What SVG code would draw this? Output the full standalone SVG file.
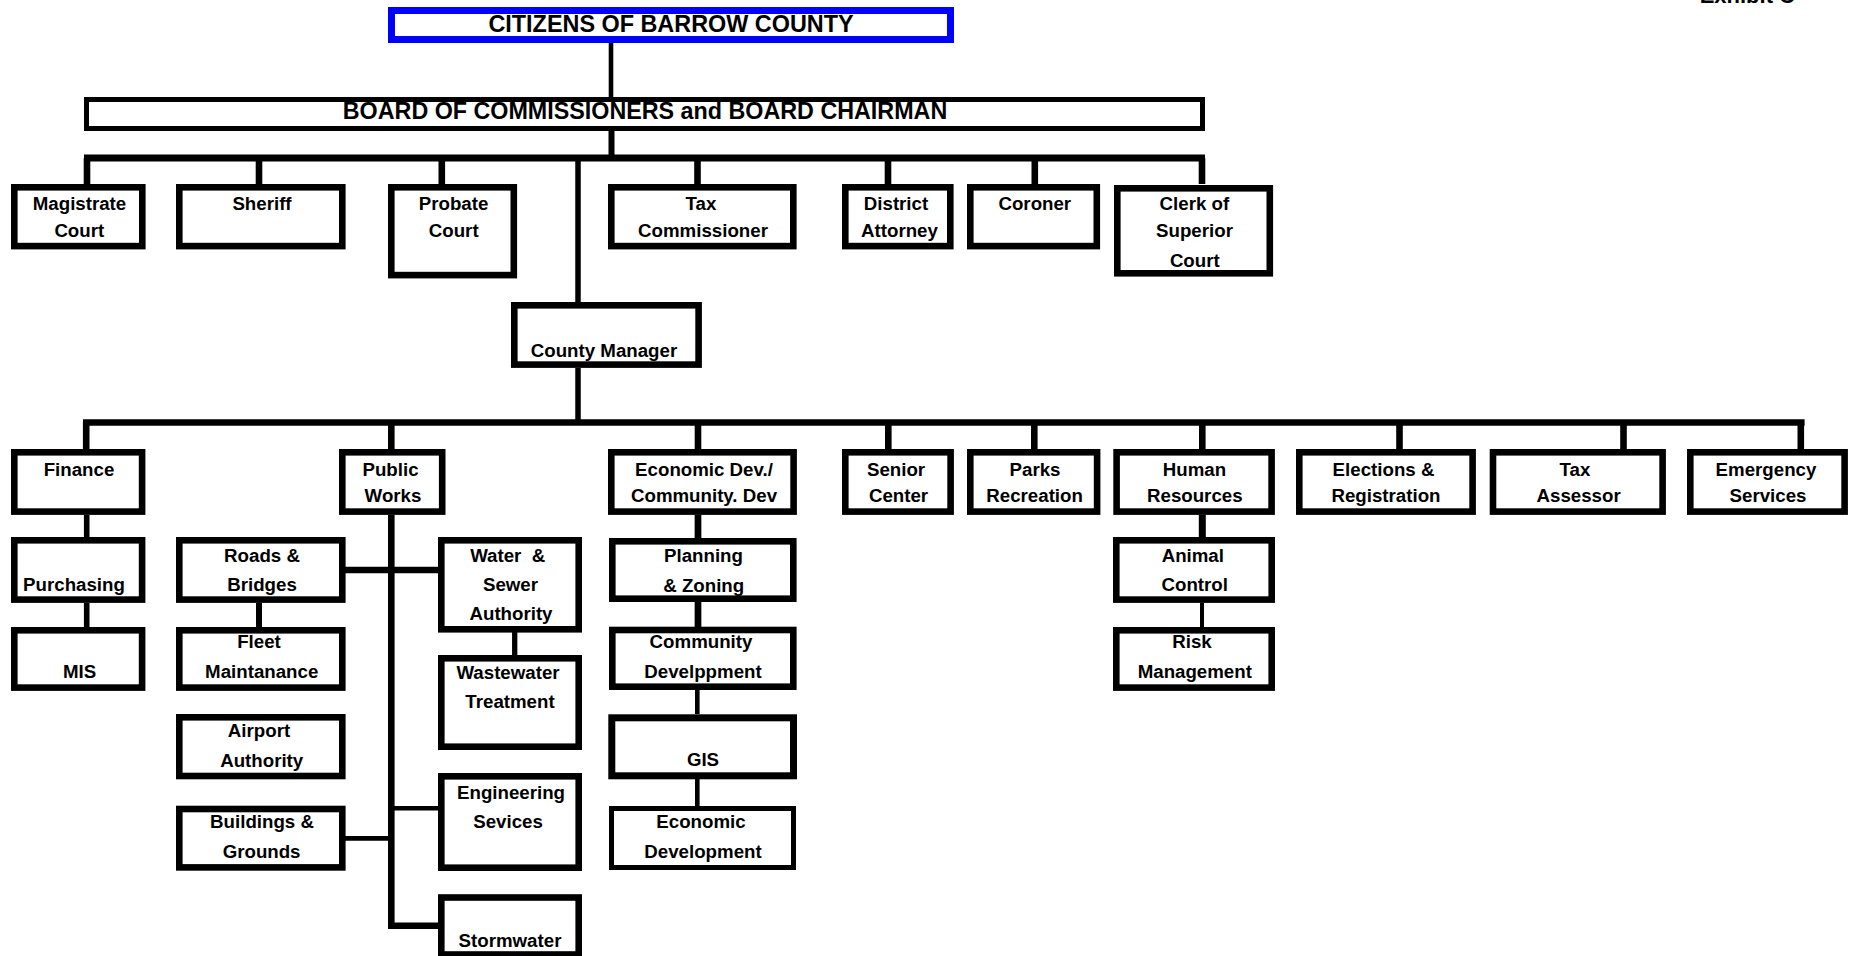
<svg xmlns="http://www.w3.org/2000/svg" width="1854" height="956" viewBox="0 0 1854 956">
<style>
.b{fill:#fff;stroke:#000;stroke-width:6.6}
.t{font-family:"Liberation Sans",Arial,sans-serif;font-weight:bold;font-size:18.7px;fill:#000;text-anchor:middle}
.c{fill:none;stroke:#000;stroke-width:6.6}
.n{fill:none;stroke:#000;stroke-width:4.6}
</style>
<rect width="1854" height="956" fill="#fff"/>
<text class="t" x="1795" y="3" style="text-anchor:end;font-size:22px">Exhibit C</text>
<g id="connectors">
<line class="n" x1="611" y1="43" x2="611" y2="97"/>
<line class="c" x1="611.5" y1="131" x2="611.5" y2="158" style="stroke-width:6"/>
<line class="c" x1="84" y1="158" x2="1205" y2="158" style="stroke-width:7"/>
<path class="c" d="M87 158V184M259 158V184M441.8 158V184M697.5 158V184M888 158V184M1034.8 158V184M1202 158V184"/>
<line class="c" x1="578" y1="158" x2="578" y2="302" style="stroke-width:5.5"/>
<line class="c" x1="578" y1="368" x2="578" y2="422.5" style="stroke-width:5.5"/>
<line class="c" x1="83" y1="422.5" x2="1804.6" y2="422.5"/>
<path class="c" d="M86.2 422.5V449M391.3 422.5V449M698 422.5V449M888.3 422.5V449M1034.3 422.5V449M1202.3 422.5V449M1399.5 422.5V449M1623.5 422.5V449M1800.8 422.5V449"/>
<path class="c" d="M86.7 515V537M86.7 603V627" style="stroke-width:5.6"/>
<path class="c" d="M259 603V627" style="stroke-width:6"/>
<path class="c" d="M391.3 515V925.8H440" style="stroke-width:6.6"/>
<path class="c" d="M345 570H445"/>
<path class="c" d="M514.7 632V655" style="stroke-width:5.3"/>
<path class="n" d="M345 838.4H391M391 808.3H440"/>
<path class="c" d="M698 515V538M698 602V627" style="stroke-width:6.7"/>
<path class="n" d="M697.3 690V714M697.3 779V806"/>
<path class="c" d="M1202.3 515V537" style="stroke-width:7"/>
<path class="n" d="M1202 603V627" style="stroke-width:4"/>
</g>
<g id="citizens">
<rect x="391.5" y="10.5" width="559" height="29" fill="#fff" stroke="#0000ff" stroke-width="7"/>
<text class="t" x="671" y="31.7" style="font-size:23.4px">CITIZENS OF BARROW COUNTY</text>
</g>
<g id="board">
<rect class="b" x="86.5" y="99.5" width="1116" height="29" style="stroke-width:5"/>
<text class="t" x="645" y="119" style="font-size:23.3px">BOARD OF COMMISSIONERS and BOARD CHAIRMAN</text>
</g>
<g id="magistrate"><rect class="b" x="14.3" y="187.3" width="128" height="58.8"/><text class="t" x="79.5" y="210">Magistrate</text><text class="t" x="79.3" y="237.3">Court</text></g>
<g id="sheriff"><rect class="b" x="179.3" y="187.3" width="163" height="58.8"/><text class="t" x="262" y="210">Sheriff</text></g>
<g id="probate"><rect class="b" x="391.3" y="187.3" width="122.5" height="87.8"/><text class="t" x="453.6" y="210">Probate</text><text class="t" x="453.7" y="237.3">Court</text></g>
<g id="tax-commissioner"><rect class="b" x="611.3" y="187.3" width="182" height="58.8"/><text class="t" x="701" y="210">Tax</text><text class="t" x="703" y="237.3">Commissioner</text></g>
<g id="district-attorney"><rect class="b" x="845.3" y="187.3" width="105" height="58.8"/><text class="t" x="896" y="210">District</text><text class="t" x="899.5" y="237.3">Attorney</text></g>
<g id="coroner"><rect class="b" x="970.3" y="187.3" width="126.5" height="58.8"/><text class="t" x="1034.8" y="210">Coroner</text></g>
<g id="clerk"><rect class="b" x="1117.3" y="188.3" width="152.5" height="85"/><text class="t" x="1194.4" y="210">Clerk of</text><text class="t" x="1194.5" y="237.3">Superior</text><text class="t" x="1194.8" y="266.7">Court</text></g>
<g id="county-manager"><rect class="b" x="514.3" y="305.3" width="184.3" height="59.3"/><text class="t" x="604" y="356.7">County Manager</text></g>
<g id="finance"><rect class="b" x="14.3" y="452.3" width="127.8" height="59.3"/><text class="t" x="79" y="475.5">Finance</text></g>
<g id="public-works"><rect class="b" x="342.3" y="452.3" width="99.9" height="59.3"/><text class="t" x="390.5" y="475.5">Public</text><text class="t" x="393" y="501.7">Works</text></g>
<g id="econ-comm-dev"><rect class="b" x="611.3" y="452.3" width="182.3" height="59.3"/><text class="t" x="704" y="475.5">Economic Dev./</text><text class="t" x="704" y="501.7">Community. Dev</text></g>
<g id="senior-center"><rect class="b" x="845.3" y="452.3" width="105.3" height="59.3"/><text class="t" x="896" y="475.5">Senior</text><text class="t" x="898.5" y="501.7">Center</text></g>
<g id="parks"><rect class="b" x="970.3" y="452.3" width="126.8" height="59.3"/><text class="t" x="1035" y="475.5">Parks</text><text class="t" x="1034.6" y="501.7">Recreation</text></g>
<g id="human-resources"><rect class="b" x="1116.6" y="452.3" width="155" height="59.3"/><text class="t" x="1194.5" y="475.5">Human</text><text class="t" x="1194.8" y="501.7">Resources</text></g>
<g id="elections"><rect class="b" x="1299.3" y="452.3" width="173.3" height="59.3"/><text class="t" x="1383.5" y="475.5">Elections &amp;</text><text class="t" x="1386" y="501.7">Registration</text></g>
<g id="tax-assessor"><rect class="b" x="1493" y="452.3" width="169.6" height="59.3"/><text class="t" x="1575" y="475.5">Tax</text><text class="t" x="1578.6" y="501.7">Assessor</text></g>
<g id="emergency"><rect class="b" x="1690.3" y="452.3" width="154.3" height="59.3"/><text class="t" x="1766" y="475.5">Emergency</text><text class="t" x="1768" y="501.7">Services</text></g>
<g id="purchasing"><rect class="b" x="14.3" y="540.3" width="127.8" height="59.3"/><text class="t" x="74" y="590.7">Purchasing</text></g>
<g id="roads"><rect class="b" x="179.3" y="540.3" width="163" height="59.3"/><text class="t" x="262" y="561.7">Roads &amp;</text><text class="t" x="262" y="590.7">Bridges</text></g>
<g id="water-sewer"><rect class="b" x="441.3" y="540.3" width="137.4" height="89"/><text class="t" x="507.7" y="561.7" style="white-space:pre">Water  &amp;</text><text class="t" x="510.5" y="590.7">Sewer</text><text class="t" x="511" y="620">Authority</text></g>
<g id="planning"><rect class="b" x="612.3" y="541.3" width="181" height="57.4"/><text class="t" x="703.5" y="562.3">Planning</text><text class="t" x="703.7" y="591.7">&amp; Zoning</text></g>
<g id="animal-control"><rect class="b" x="1116.3" y="540.3" width="155.4" height="59.3"/><text class="t" x="1192.8" y="561.7">Animal</text><text class="t" x="1194.7" y="590.7">Control</text></g>
<g id="mis"><rect class="b" x="14.3" y="630.3" width="127.8" height="57.3"/><text class="t" x="79.5" y="678.3">MIS</text></g>
<g id="fleet"><rect class="b" x="179.3" y="630.3" width="163" height="57.3"/><text class="t" x="259" y="648.3">Fleet</text><text class="t" x="261.7" y="678.3">Maintanance</text></g>
<g id="wastewater"><rect class="b" x="441.3" y="658.3" width="137.4" height="88.4"/><text class="t" x="508" y="679">Wastewater</text><text class="t" x="510" y="707.7">Treatment</text></g>
<g id="community-dev"><rect class="b" x="612.3" y="630" width="181" height="56.7"/><text class="t" x="701" y="648.3">Community</text><text class="t" x="703" y="678.3">Develppment</text></g>
<g id="risk"><rect class="b" x="1116.3" y="630.3" width="155.4" height="57.3"/><text class="t" x="1192" y="648.3">Risk</text><text class="t" x="1194.8" y="678.3">Management</text></g>
<g id="airport"><rect class="b" x="179.3" y="717.3" width="163" height="58.7"/><text class="t" x="259" y="737.3">Airport</text><text class="t" x="261.7" y="766.7">Authority</text></g>
<g id="gis"><rect class="b" x="611.8" y="717.8" width="181.7" height="58" style="stroke-width:7"/><text class="t" x="703" y="766">GIS</text></g>
<g id="engineering"><rect class="b" x="441.3" y="776.3" width="137.4" height="91.4"/><text class="t" x="511" y="799.3">Engineering</text><text class="t" x="508" y="828.3">Sevices</text></g>
<g id="buildings"><rect class="b" x="179.3" y="809" width="163" height="58.4"/><text class="t" x="262" y="828.3">Buildings &amp;</text><text class="t" x="261.6" y="858.3">Grounds</text></g>
<g id="economic-development"><rect class="b" x="611.5" y="808.5" width="182" height="59" style="stroke-width:5"/><text class="t" x="701" y="828.3">Economic</text><text class="t" x="703" y="858.3">Development</text></g>
<g id="stormwater"><rect class="b" x="441.3" y="897.5" width="137.4" height="57"/><text class="t" x="510" y="946.7">Stormwater</text></g>
</svg>
